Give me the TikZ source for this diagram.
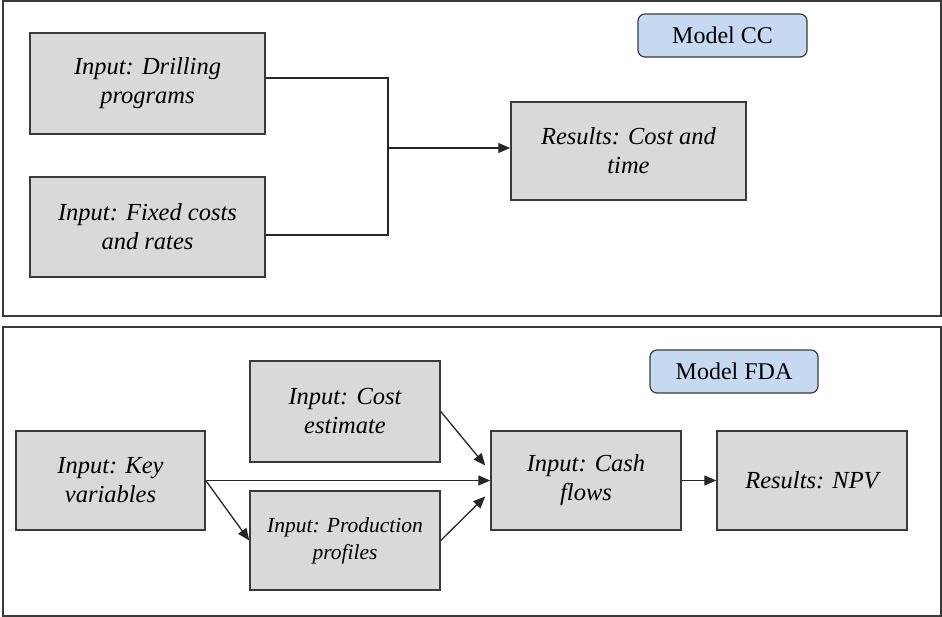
\documentclass[tikz,border=0pt]{standalone}
\usepackage{fontspec}
\setmainfont{Liberation Serif}
\usetikzlibrary{arrows.meta,calc}
\definecolor{boxgray}{HTML}{D9D9D9}
\definecolor{boxline}{HTML}{3A3A3A}
\definecolor{labblue}{HTML}{C6D9F1}
\tikzset{
  panel/.style={draw=boxline, line width=1.2pt},
  inbox/.style={draw=boxline, fill=boxgray, line width=1.5pt, align=center,
    font=\itshape\fontsize{24.5}{29}\selectfont, inner sep=0pt},
  smallbox/.style={inbox, font=\itshape\fontsize{21.5}{27}\selectfont},
  modlab/.style={draw=boxline, fill=labblue, rounded corners=7pt, line width=1.2pt,
    font=\fontsize{24}{26}\selectfont, inner sep=0pt},
  conn/.style={draw=black!85, line width=1.3pt},
  arr/.style={conn, -{Triangle[length=12pt,width=10pt]}}
}
\begin{document}
\begin{tikzpicture}[x=1pt,y=-1pt]
\useasboundingbox (0,0) rectangle (942,617);
% panels
\draw[panel] (3,1) rectangle (941,316);
\draw[panel] (3,327) rectangle (941,616);
% top panel
\node[modlab, minimum width=169pt, minimum height=43pt] (mcc) at (722.5,35.5) {Model CC};
\node[inbox, minimum width=235pt, minimum height=101pt] (drill) at (147.5,83.5) {Input: Drilling\\programs};
\node[inbox, minimum width=235pt, minimum height=100pt] (fixed) at (147.5,227) {Input: Fixed costs\\and rates};
\node[inbox, minimum width=235pt, minimum height=98pt] (res) at (628.5,151) {Results: Cost and\\time};
\coordinate (j) at (388,148);
\draw[conn] ([yshift=5.5pt]drill.east) -| (j);
\draw[conn] ([yshift=-8pt]fixed.east) -| (j);
\draw[arr] (j) -- ([yshift=3pt]res.west);
% bottom panel
\node[modlab, minimum width=168pt, minimum height=43pt] (mfda) at (734,371.5) {Model FDA};
\node[inbox, minimum width=189pt, minimum height=99pt] (key) at (110.5,480.5) {Input: Key\\variables};
\node[inbox, minimum width=190pt, minimum height=101pt] (cost) at (345,411.5) {Input: Cost\\estimate};
\node[smallbox, minimum width=190pt, minimum height=99pt] (prod) at (345,540.5) {Input: Production\\profiles};
\node[inbox, minimum width=190pt, minimum height=99pt] (cash) at (586,480.5) {Input: Cash\\flows};
\node[inbox, minimum width=190pt, minimum height=99pt] (npv) at (812,480.5) {Results: NPV};
\draw[arr] (key.east) -- (cash.west);
\draw[arr] (key.east) -- (prod.west);
\draw[arr] (cost.east) -- ([xshift=-5pt,yshift=15pt]cash.west);
\draw[arr] (prod.east) -- ([xshift=-5pt,yshift=-16pt]cash.west);
\draw[arr] (cash.east) -- (npv.west);
\end{tikzpicture}
\end{document}
